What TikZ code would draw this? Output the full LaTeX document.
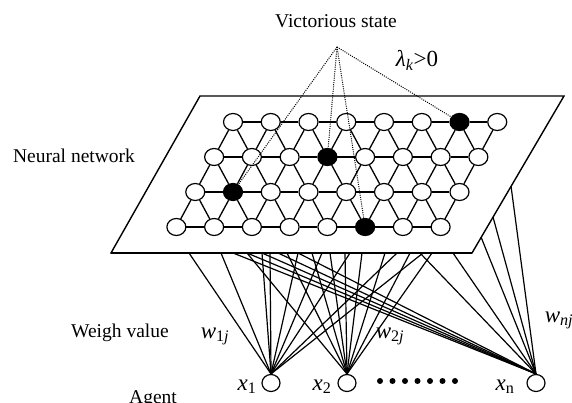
\documentclass[tikz,border=0pt]{standalone}
\usepackage{fontspec}
\setmainfont{Liberation Serif}
\usetikzlibrary{shapes.geometric, calc}

\begin{document}
\begin{tikzpicture}[
    x=1pt, y=-1pt,
    unit/.style={ellipse, draw, line width=1.2pt, minimum width=19pt, minimum height=17pt, inner sep=0pt},
    agent/.style={ellipse, draw, line width=1.2pt, fill=white, minimum width=18pt, minimum height=17pt, inner sep=0pt},
    plane/.style={line width=1.4pt, fill=white},
    edge/.style={line width=1.3pt},
    link/.style={line width=1.2pt},
    vict/.style={line width=1pt, dash pattern=on 1pt off 1.2pt},
    lbl/.style={font=\fontsize{19.5}{22}\selectfont, anchor=base},
    sym/.style={font=\fontsize{23}{26}\selectfont, anchor=base},
    dot/.style={circle, fill=black, inner sep=0pt, minimum size=6pt},
]
\useasboundingbox (0,0) rectangle (572,403);

% =============================================================================
% Plane of the neural network
% =============================================================================
\coordinate (pTL) at (200,96);
\coordinate (pTR) at (564,96);
\coordinate (pBR) at (472,253);
\coordinate (pBL) at (111,253);
\draw[plane] (pTL) -- (pTR) -- (pBR) -- (pBL) -- cycle;
\draw[line width=2.4pt] (pBL) -- (pBR);

% Units (row r, column i); one winner per row
\foreach \r/\b in {0/6, 1/3, 2/1, 3/5}
  \foreach \i in {0,...,7} {
    \ifnum\i=\b \def\fc{black}\else\def\fc{white}\fi
    \node[unit, fill=\fc] (n\r\i) at ({233+37.75*\i-18.875*\r},{122+35*\r}) {};
  }

% Lattice: horizontal links
\foreach \r in {0,...,3}
  \foreach \i in {0,...,6} {
    \pgfmathtruncatemacro\j{\i+1}
    \ifnum\r=3
      \draw[edge, line width=1.8pt] (n\r\i) -- (n\r\j);
    \else
      \draw[edge] (n\r\i) -- (n\r\j);
    \fi
  }

% Lattice: diagonal links to the next row
\foreach \r in {0,1,2}
  \foreach \i in {0,...,7} {
    \pgfmathtruncatemacro\s{\r+1}
    \pgfmathtruncatemacro\j{\i+1}
    \draw[edge] (n\r\i) -- (n\s\i);
    \ifnum\i<7 \draw[edge] (n\r\i) -- (n\s\j); \fi
  }

% =============================================================================
% Victorious state
% =============================================================================
\node[lbl] (vs) at (336,28) {Victorious state};
\coordinate (apex) at (337,47);
\foreach \w in {n06, n13, n21, n35}
  \draw[vict] (apex) -- (\w);
\node[sym] (lam) at (417,67) {\textit{λ}\textsubscript{\textit{k}}>0};

% =============================================================================
% Agents and weights
% =============================================================================
\node[agent] (x1) at (271,383) {};
\node[agent] (x2) at (347,383) {};
\node[agent] (xn) at (536,383) {};
\foreach \k in {0,...,6}
  \node[dot] (d\k) at ({380+12.5*\k},381) {};

% Anchor points on the plane
\foreach \ex in {189,221,233,247,262,270,278,287,298,312,322,330,345,350,362,385,397,410,420,423,432,453}
  \coordinate (e\ex) at (\ex,253);
\coordinate (r1) at (481,237);
\coordinate (r2) at (493,217);
\coordinate (r3) at (511,186);

% Weight links
\foreach \ex in {189,221,262,270,298,322,350,397,423}
  \draw[link] (x1.north) -- (e\ex);
\foreach \ex in {247,287,312,330,345,362,385,410,432}
  \draw[link] (x2.north) -- (e\ex);
\foreach \ex in {233,247,262,278,298,420,453}
  \draw[link] (xn.north) -- (e\ex);
\foreach \rr in {r1,r2,r3}
  \draw[link] (xn.north) -- (\rr);

% Labels
\node[lbl] (nn) at (74,163) {Neural network};
\node[lbl] (wv) at (120,337) {Weigh value};
\node[lbl] (ag) at (153,403) {Agent};
\node[sym] (w1) at (215,338) {\textit{w}\textsubscript{1\textit{j}}};
\node[sym] (w2) at (390,338) {\textit{w}\textsubscript{2\textit{j}}};
\node[sym] (wn) at (559,322) {\textit{w}\textsubscript{\textit{nj}}};
\node[sym] (l1) at (247,390) {\textit{x}\textsubscript{1}};
\node[sym] (l2) at (322,390) {\textit{x}\textsubscript{2}};
\node[sym] (ln) at (505,390) {\textit{x}\textsubscript{n}};

\end{tikzpicture}
\end{document}
